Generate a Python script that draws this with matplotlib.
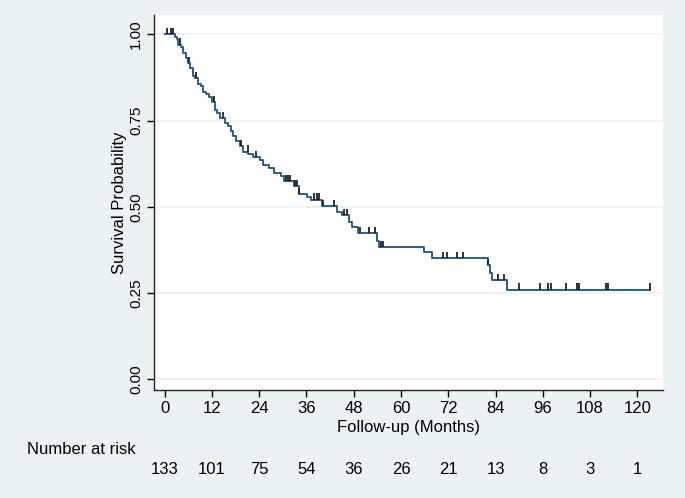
import numpy as np
import matplotlib.pyplot as plt
from matplotlib import transforms

plt.rcParams['font.family'] = ['Liberation Sans', 'DejaVu Sans']

# Kaplan-Meier steps (month, survival after the drop)
event_t = [0, 2.5, 3.0, 3.5, 4.2, 4.7, 5.3, 5.9, 6.5, 7.2, 7.8, 8.5, 9.2, 9.8,
           10.5, 11.2, 11.9, 12.7, 13.3, 14.0, 15.2, 16.1, 16.8, 17.4, 18.2,
           19.1, 19.8, 21.2, 22.5, 24.2, 25.0, 26.5, 27.7, 29.4, 30.2, 32.7,
           34.0, 36.1, 37.2, 39.9, 43.7, 45.0, 46.7, 47.6, 49.0, 54.0, 54.5,
           65.8, 67.9, 82.0, 82.5, 83.2, 86.9]
event_s = [1.0, 0.992, 0.985, 0.970, 0.962, 0.947, 0.932, 0.917, 0.902, 0.880,
           0.872, 0.857, 0.849, 0.834, 0.826, 0.819, 0.804, 0.781, 0.773, 0.758,
           0.743, 0.735, 0.720, 0.705, 0.690, 0.675, 0.660, 0.652, 0.644, 0.636,
           0.620, 0.612, 0.597, 0.590, 0.575, 0.560, 0.537, 0.529, 0.521, 0.503,
           0.485, 0.476, 0.455, 0.440, 0.424, 0.400, 0.382, 0.368, 0.352, 0.331,
           0.309, 0.287, 0.260]
censor_t = [0.6, 1.7, 2.1, 4.0, 6.1, 7.9, 12.5, 14.7, 19.4, 21.1, 23.2, 30.8,
            31.4, 31.8, 33.1, 33.5, 34.2, 37.8, 38.6, 39.3, 40.2, 43.1, 45.6,
            46.3, 49.7, 51.8, 53.5, 55.0, 55.4, 70.7, 71.6, 74.1, 75.8, 82.2,
            84.5, 86.2, 90.0, 95.4, 97.2, 98.1, 101.9, 104.7, 105.3, 112.1,
            112.5, 123.2]
last_t = 123.2

risk_t = [0, 12, 24, 36, 48, 60, 72, 84, 96, 108, 120]
risk_n = [133, 101, 75, 54, 36, 26, 21, 13, 8, 3, 1]

bg = '#eaf2f3'
fig = plt.figure(figsize=(6.85, 4.98), dpi=100, facecolor=bg)
ax = fig.add_axes([0.2255, 0.217, 0.7423, 0.753])
ax.set_facecolor('white')

for yy in [0, 0.25, 0.5, 0.75, 1.0]:
    ax.axhline(yy, color=bg, lw=1.2, zorder=0)

t = np.array(event_t + [last_t])
s = np.array(event_s + [event_s[-1]])
ax.step(t, s, where='post', color='#2b5c8a', lw=1.4, zorder=3)

# censoring ticks sit on the curve
idx = np.searchsorted(np.array(event_t), np.array(censor_t), side='right') - 1
cs = np.array(event_s)[idx]
ax.vlines(censor_t, cs, cs + 0.018, color='#222222', lw=1.3, zorder=4)

ax.set_xlim(-2.6, 126.5)
ax.set_ylim(-0.031, 1.056)
ax.set_xticks(risk_t)
ax.set_yticks([0, 0.25, 0.5, 0.75, 1.0])
ax.set_yticklabels(['0.00', '0.25', '0.50', '0.75', '1.00'], rotation=90,
                   va='center')
ax.tick_params(axis='x', length=5, width=1, labelsize=12, pad=3)
ax.tick_params(axis='y', length=5, width=1, labelsize=11, pad=3)
for sp in ['top', 'right']:
    ax.spines[sp].set_visible(False)
for sp in ['left', 'bottom']:
    ax.spines[sp].set_linewidth(1.0)
    ax.spines[sp].set_color('#222222')

ax.set_xlabel('Follow-up (Months)', fontsize=12, labelpad=3)
ax.set_ylabel('Survival Probability', fontsize=12, labelpad=2)

tr = transforms.blended_transform_factory(ax.transData, fig.transFigure)
fig.text(0.04, 1 - 449 / 498, 'Number at risk', fontsize=12, ha='left',
         va='center')
for xx, n in zip(risk_t, risk_n):
    fig.text(xx, 1 - 469 / 498, str(n), transform=tr, fontsize=12,
             ha='center', va='center')

fig.savefig('out.png', dpi=100, facecolor=bg)
